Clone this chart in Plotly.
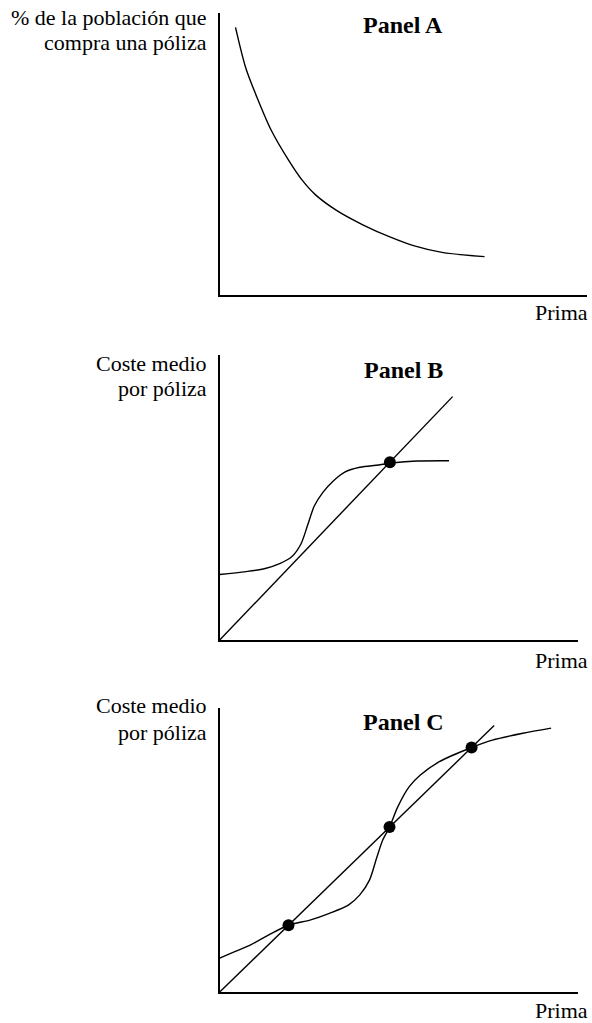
import plotly.graph_objects as go

# ---------------- data (abstract units 0-100 on each axis) ----------------
# Panel A: demand-like curve
a_x = [4.3, 7.1, 10.3, 14.0, 18.7, 22.4, 26.1, 31.7, 39.1, 46.5, 53.0, 60.5, 72.1]
a_y = [94.9, 80.5, 69.6, 58.5, 47.9, 40.8, 35.5, 30.1, 24.8, 20.5, 17.4, 15.1, 13.6]

# Panel B: 45-degree line, cost curve, equilibrium point
b_line_x = [0, 65.0]
b_line_y = [0, 85.4]
b_curve_x = [0, 7.4, 12.7, 16.9, 20.1, 22.6, 24.6, 26.4, 28.8, 31.7, 34.9, 39.1, 44.4, 48.6, 55.0, 64.0]
b_curve_y = [23.0, 24.0, 25.1, 26.9, 29.2, 33.5, 40.5, 47.0, 51.8, 55.8, 58.9, 60.6, 61.4, 62.2, 62.8, 62.9]
b_dot_x = [47.5]
b_dot_y = [62.4]

# Panel C: 45-degree line, cost curve, three equilibria
c_line_x = [0, 76.6]
c_line_y = [0, 93.8]
c_curve_x = [0, 4.2, 8.5, 13.7, 19.2, 25.4, 30.6, 35.9, 39.1, 41.8, 43.9, 45.5, 47.4, 49.7, 52.9, 56.0, 61.3, 70.3, 76.1, 84.6, 92.5]
c_curve_y = [11.9, 14.2, 16.5, 20.1, 23.5, 25.4, 27.7, 30.6, 34.2, 39.4, 47.6, 53.5, 58.1, 65.2, 72.3, 76.4, 81.1, 86.1, 88.7, 91.1, 92.9]
c_dot_x = [19.2, 47.4, 70.3]
c_dot_y = [23.5, 58.1, 86.1]

panel_titles = ["Panel A", "Panel B", "Panel C"]
y_titles = [["% de la población que", "compra una póliza"],
            ["Coste medio", "por póliza"],
            ["Coste medio", "por póliza"]]
x_title = "Prima"

# ---------------- figure ----------------
W, H = 592, 1023
FONT = "Liberation Serif"
FS = 22
fig = go.Figure()

LW = 1.4
line_style = dict(color="black", width=LW)
dot_style = dict(color="black", size=12)

fig.add_trace(go.Scatter(x=a_x, y=a_y, mode="lines", line=dict(**line_style, shape="spline", smoothing=0.8),
                         xaxis="x", yaxis="y"))

fig.add_trace(go.Scatter(x=b_line_x, y=b_line_y, mode="lines", line=line_style, xaxis="x2", yaxis="y2"))
fig.add_trace(go.Scatter(x=b_curve_x, y=b_curve_y, mode="lines", line=dict(**line_style, shape="spline", smoothing=0.9),
                         xaxis="x2", yaxis="y2"))
fig.add_trace(go.Scatter(x=b_dot_x, y=b_dot_y, mode="markers", marker=dot_style, cliponaxis=False,
                         xaxis="x2", yaxis="y2"))

fig.add_trace(go.Scatter(x=c_line_x, y=c_line_y, mode="lines", line=line_style, xaxis="x3", yaxis="y3"))
fig.add_trace(go.Scatter(x=c_curve_x, y=c_curve_y, mode="lines", line=dict(**line_style, shape="spline", smoothing=0.8),
                         xaxis="x3", yaxis="y3"))
fig.add_trace(go.Scatter(x=c_dot_x, y=c_dot_y, mode="markers", marker=dot_style, cliponaxis=False,
                         xaxis="x3", yaxis="y3"))


def px_x(p):
    return p / W


def px_y(p):
    return 1 - p / H


axis_common = dict(range=[0, 100], showgrid=False, zeroline=False, showticklabels=False, ticks="",
                   showline=True, linecolor="black", linewidth=2, fixedrange=True)

# pixel extents of each panel: (left, right, top, bottom)
panels = [(219.7, 587, 13, 295), (219.7, 578, 355, 640), (219.7, 578, 708, 992)]
layout_axes = {}
for i, (l, r, t, b) in enumerate(panels):
    sx = "" if i == 0 else str(i + 1)
    layout_axes["xaxis" + sx] = dict(axis_common, domain=[px_x(l), px_x(r)],
                                     anchor="y" + sx)
    layout_axes["yaxis" + sx] = dict(axis_common, domain=[px_y(b), px_y(t)],
                                     anchor="x" + sx)

fig.update_layout(width=W, height=H, margin=dict(l=0, r=0, t=0, b=0),
                  paper_bgcolor="white", plot_bgcolor="white", showlegend=False,
                  **layout_axes)

# ---------------- text ----------------
annotations = []
title_pos = [(403, 25), (403, 370), (403, 722)]
ylab_pos = [(18, 43), (363, 388), (705, 732)]
xlab_pos = [313, 660, 1010]
for i in range(3):
    tx, ty = title_pos[i]
    annotations.append(dict(x=px_x(tx), y=px_y(ty), xref="paper", yref="paper", text="<b>%s</b>" % panel_titles[i],
                            showarrow=False, xanchor="center", yanchor="middle",
                            font=dict(family=FONT, size=24, color="black")))
    for line, yy in zip(y_titles[i], ylab_pos[i]):
        annotations.append(dict(x=px_x(209), y=px_y(yy), xref="paper", yref="paper", text=line,
                                showarrow=False, xanchor="right", yanchor="middle",
                                font=dict(family=FONT, size=FS, color="black")))
    annotations.append(dict(x=px_x(590), y=px_y(xlab_pos[i]), xref="paper", yref="paper", text=x_title,
                            showarrow=False, xanchor="right", yanchor="middle",
                            font=dict(family=FONT, size=FS, color="black")))
fig.update_layout(annotations=annotations)

fig.write_html("out.html", config={"displayModeBar": False},
               post_script="document.body.style.margin='0';document.body.style.padding='0';"
                           "document.body.style.overflow='hidden';")
